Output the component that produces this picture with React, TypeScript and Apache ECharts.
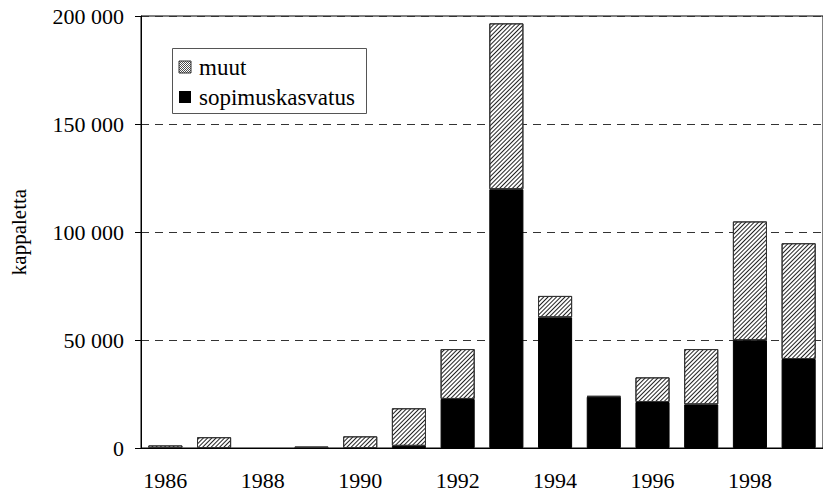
import React, { useEffect, useRef } from "react";
import * as echarts from "echarts";

const years = ["1986", "1987", "1988", "1989", "1990", "1991", "1992", "1993", "1994", "1995", "1996", "1997", "1998", "1999"];
const sopimuskasvatus = [0, 0, 0, 0, 0, 1000, 22700, 119800, 60500, 23700, 21300, 20200, 49900, 41200];
const muut = [1200, 5000, 0, 700, 5400, 17400, 23100, 76800, 9900, 400, 11400, 25600, 55000, 53600];
const legendNames = ["muut", "sopimuskasvatus"];

const FONT = "Liberation Serif";

function fmt(v: number): string {
  const s = String(Math.round(v));
  return s.replace(/\B(?=(\d{3})+(?!\d))/g, " ");
}

const nz = (arr: number[]) => arr.map((v) => (v === 0 ? "-" : v));

function hatchLines(x0: number, y0: number, size: number, step: number) {
  const out: any[] = [];
  for (let c = step; c < 2 * size; c += step) {
    const u1 = Math.max(0, c - size);
    const u2 = Math.min(c, size);
    out.push({
      type: "line",
      silent: true,
      shape: { x1: x0 + u1, y1: y0 + size - (c - u1), x2: x0 + u2, y2: y0 + size - (c - u2) },
      style: { stroke: "#222", lineWidth: 0.8 },
    });
  }
  return out;
}

function buildLegend() {
  const boxX = 172, boxY = 48, boxW = 194, boxH = 65;
  const iconX = 179, iconS = 12;
  const rows = [67, 97];
  const els: any[] = [
    { type: "rect", shape: { x: boxX + 0.5, y: boxY + 0.5, width: boxW, height: boxH }, style: { fill: "#fff", stroke: "#555", lineWidth: 1 } },
  ];
  legendNames.forEach((name, i) => {
    const cy = rows[i];
    const iy = cy - iconS / 2;
    if (name === "muut") {
      els.push({ type: "rect", shape: { x: iconX, y: iy, width: iconS, height: iconS }, style: { fill: "#fff" } });
      els.push(...hatchLines(iconX, iy, iconS, 2));
      els.push({ type: "rect", shape: { x: iconX, y: iy, width: iconS, height: iconS }, style: { fill: "none", stroke: "#333", lineWidth: 1 } });
    } else {
      els.push({ type: "rect", shape: { x: iconX, y: iy, width: iconS, height: iconS }, style: { fill: "#000" } });
    }
    els.push({
      type: "text",
      x: 199,
      y: cy,
      style: { text: name, fontFamily: FONT, fontSize: 23, fill: "#000", verticalAlign: "middle", align: "left" },
    });
  });
  return els;
}

export default function App() {
  const ref = useRef<HTMLDivElement>(null);
  useEffect(() => {
    if (!ref.current) return;
    const chart = echarts.init(ref.current, null, { renderer: "svg" });
    chart.setOption({
      animation: false,
      backgroundColor: "#fff",
      textStyle: { fontFamily: FONT },
      grid: {
        left: 140.5,
        right: -8,
        top: 16,
        bottom: 44,
        show: true,
        borderColor: "#000",
        borderWidth: 1,
      },
      graphic: buildLegend(),
      xAxis: {
        type: "category",
        data: years,
        boundaryGap: true,
        axisLine: { lineStyle: { color: "#000", width: 1 } },
        axisTick: { interval: 0, length: 6, lineStyle: { color: "#000" } },
        axisLabel: { interval: 1, margin: 21, fontFamily: FONT, fontSize: 22, color: "#000" },
      },
      yAxis: {
        type: "value",
        min: 0,
        max: 200000,
        interval: 50000,
        name: "kappaletta",
        nameLocation: "middle",
        nameRotate: 90,
        nameGap: 112,
        nameTextStyle: { fontFamily: FONT, fontSize: 21, color: "#000" },
        axisLine: { show: true, lineStyle: { color: "#000", width: 1 } },
        axisTick: { show: true, length: 6, lineStyle: { color: "#000" } },
        axisLabel: { margin: 17, fontFamily: FONT, fontSize: 22, color: "#000", formatter: (v: number) => fmt(v) },
        splitLine: { show: true, lineStyle: { color: "#333", type: [8, 6], width: 1 } },
      },
      series: [
        {
          name: "sopimuskasvatus",
          type: "bar",
          stack: "total",
          barWidth: "70%",
          data: nz(sopimuskasvatus),
          itemStyle: { color: "#000", borderColor: "#000", borderWidth: 1 },
        },
        {
          name: "muut",
          type: "bar",
          stack: "total",
          barWidth: "70%",
          data: nz(muut),
          itemStyle: {
            color: "#fff",
            borderColor: "#333",
            borderWidth: 1,
            decal: {
              symbol: "rect",
              color: "#222",
              backgroundColor: "#fff",
              dashArrayX: [1, 0],
              dashArrayY: [1, 2],
              rotation: -Math.PI / 4,
              symbolSize: 1,
            },
          },
        },
      ],
    });
    return () => chart.dispose();
  }, []);
  return <div ref={ref} style={{ width: 823, height: 492, position: "absolute", left: 0, top: 0 }} />;
}
